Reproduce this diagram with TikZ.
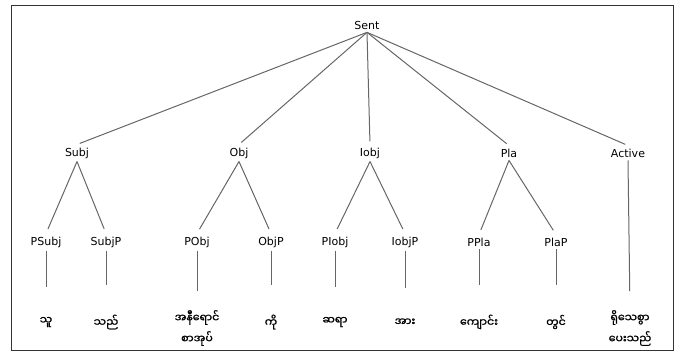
\documentclass[tikz,border=0pt]{standalone}
\usepackage{fontspec}
\setmainfont{DejaVu Sans}
\newfontfamily\mmfont[Script=Myanmar,FakeBold=1.2]{Noto Sans Myanmar UI}
\begin{document}
\begin{tikzpicture}[x=1pt,y=-1pt,
  lbl/.style={font=\fontsize{11}{13}\selectfont, inner sep=3pt},
  leaf/.style={font=\mmfont\fontsize{11}{21}\selectfont, align=center, inner sep=0pt},
  edge/.style={draw=black!60, line width=1pt},
  branch/.style={edge, shorten >=5pt},
  stem/.style={edge, shorten >=30pt},
  stemtwo/.style={edge, shorten >=19pt}]
  \useasboundingbox (0,0) rectangle (678,351);
  \draw[black!80, line width=1pt] (11,5) rectangle (673,350);

  % root
  \node[lbl] (sent) at (367,25) {Sent};

  % constituents
  \node[lbl] (subj) at (77,153) {Subj};
  \node[lbl] (obj) at (239,153) {Obj};
  \node[lbl] (iobj) at (370,153) {Iobj};
  \node[lbl] (pla) at (509,153) {Pla};
  \node[lbl] (active) at (628,153) {Active};

  % phrase parts
  \node[lbl] (psubj) at (46,242) {PSubj};
  \node[lbl] (subjp) at (106,242) {SubjP};
  \node[lbl] (pobj) at (197,242) {PObj};
  \node[lbl] (objp) at (271,242) {ObjP};
  \node[lbl] (piobj) at (335,242) {PIobj};
  \node[lbl] (iobjp) at (405,242) {IobjP};
  \node[lbl] (ppla) at (479,242) {PPla};
  \node[lbl] (plap) at (556,242) {PlaP};

  % words
  \node[leaf] (w1) at (46,322) {သူ};
  \node[leaf] (w2) at (106,322) {သည်};
  \node[leaf] (w3) at (197,328) {အနီရောင်\\စာအုပ်};
  \node[leaf] (w4) at (271,322) {ကို};
  \node[leaf] (w5) at (335,322) {ဆရာ};
  \node[leaf] (w6) at (405,322) {အား};
  \node[leaf] (w7) at (479,322) {ကျောင်း};
  \node[leaf] (w8) at (556,322) {တွင်};
  \node[leaf] (w9) at (630,328) {ရိုသေစွာ\\ပေးသည်};

  % tree edges
  \foreach \c in {subj,obj,iobj,pla,active}
    \draw[edge, shorten >=3pt] (sent.south) -- (\c.north);
  \draw[branch] (subj.south) -- (psubj.north);
  \draw[branch] (subj.south) -- (subjp.north);
  \draw[branch] (obj.south) -- (pobj.north);
  \draw[branch] (obj.south) -- (objp.north);
  \draw[branch] (iobj.south) -- (piobj.north);
  \draw[branch] (iobj.south) -- (iobjp.north);
  \draw[branch] (pla.south) -- (ppla.north);
  \draw[branch] (pla.south) -- (plap.north);

  \draw[stem] (psubj.south) -- (w1.north);
  \draw[stem] (subjp.south) -- (w2.north);
  \draw[stemtwo] (pobj.south) -- (w3.north);
  \draw[stem] (objp.south) -- (w4.north);
  \draw[stem] (piobj.south) -- (w5.north);
  \draw[stem] (iobjp.south) -- (w6.north);
  \draw[stem] (ppla.south) -- (w7.north);
  \draw[stem] (plap.south) -- (w8.north);
  \draw[stemtwo] (active.south) -- (w9.north);
\end{tikzpicture}
\end{document}
